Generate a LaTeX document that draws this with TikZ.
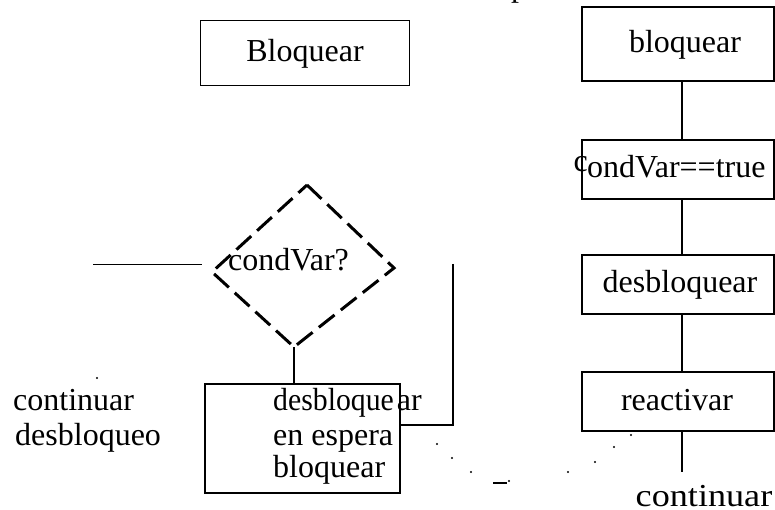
\documentclass[tikz,border=0pt]{standalone}
\usepackage{fontspec}
\usepackage{graphicx}
\setmainfont{Liberation Serif}
\begin{document}
\begin{tikzpicture}[x=1pt,y=-1pt,
  txt/.style={inner sep=0pt, font=\fontsize{32}{34}\selectfont},
  thinbox/.style={draw, line width=1pt, inner sep=0pt},
  boldbox/.style={draw, line width=2pt, inner sep=0pt},
  link/.style={line width=2pt},
  thinlink/.style={line width=1pt},
  decision/.style={line width=3pt, dash pattern=on 20pt off 8pt},
  speck/.style={fill=black}]
\useasboundingbox (0,0) rectangle (775,510);

% title glyph cut by the upper edge
\node[txt, anchor=base west] (ttl) at (511,-3) {p};

% single box, upper left
\node[thinbox, minimum width=209pt, minimum height=65pt] (blq) at (304.5,53.5) {};
\node[txt, anchor=base] (blqt) at (305,62) {Bloquear};

% right column: sequence of steps
\node[boldbox, minimum width=192pt, minimum height=74pt] (r1) at (678,44) {};
\node[boldbox, minimum width=192pt, minimum height=59pt] (r2) at (678,169.5) {};
\node[boldbox, minimum width=192pt, minimum height=59pt] (r3) at (678,284.5) {};
\node[boldbox, minimum width=192pt, minimum height=59pt] (r4) at (678,401.5) {};
\coordinate (rend) at (682,472);

\node[txt, anchor=base] (r1t) at (685,53) {bloquear};
\node[txt, anchor=base east] (r2c) at (588,172) {c};
\node[txt, anchor=base west] (r2t) at (587,178) {ondVar==true};
\node[txt, anchor=base] (r3t) at (680,292) {desbloquear};
\node[txt, anchor=base] (r4t) at (677,410) {reactivar};
\node[txt, anchor=base] (endt) at (704,506) {\scalebox{1.13}[1]{continuar}};

\draw[link] ([xshift=4pt]r1.south) -- ([xshift=4pt]r2.north);
\draw[link] ([xshift=4pt]r2.south) -- ([xshift=4pt]r3.north);
\draw[link] ([xshift=4pt]r3.south) -- ([xshift=4pt]r4.north);
\draw[link] ([xshift=4pt]r4.south) -- (rend);

% decision diamond
\coordinate (dt) at (307,185);
\coordinate (dr) at (394,268);
\coordinate (db) at (294,347);
\coordinate (dl) at (212,272);
\draw[decision] (dt) -- (dr) -- (db) -- (dl) -- cycle;
\node[txt, anchor=base] (dtx) at (288.5,270) {condVar?};

% incoming line on the left of the diamond
\coordinate (lin0) at (93,265);
\coordinate (lin1) at (202,265);
\draw[thinlink] (lin0) -- (lin1);

% lower box
\node[boldbox, minimum width=195pt, minimum height=109pt] (bx) at (302.5,438.5) {};
\node[txt, anchor=base west] (bx1) at (273,410) {\scalebox{0.93}[1]{desbloque}\hspace{3pt}ar};
\node[txt, anchor=base west] (bx2) at (273,445) {en espera};
\node[txt, anchor=base west] (bx3) at (273,477) {bloquear};

\draw[link] (db) -- (db |- bx.north);
\coordinate (rt) at (453,264);
\draw[link] (rt) |- (bx.east |- 0,425);

% labels on the left
\node[txt, anchor=base west] (lc) at (13,410) {continuar};
\node[txt, anchor=base west] (ld) at (15,445) {desbloqueo};

% dotted trail below
\foreach \px/\py in {437/444, 452/458, 471/472, 509/481, 568/472, 595/462, 614/447, 631/435, 97/378}
  \fill[speck] (\px,\py) circle (1.2pt);
\draw[link] (493,483) -- (507,483);
\end{tikzpicture}
\end{document}
